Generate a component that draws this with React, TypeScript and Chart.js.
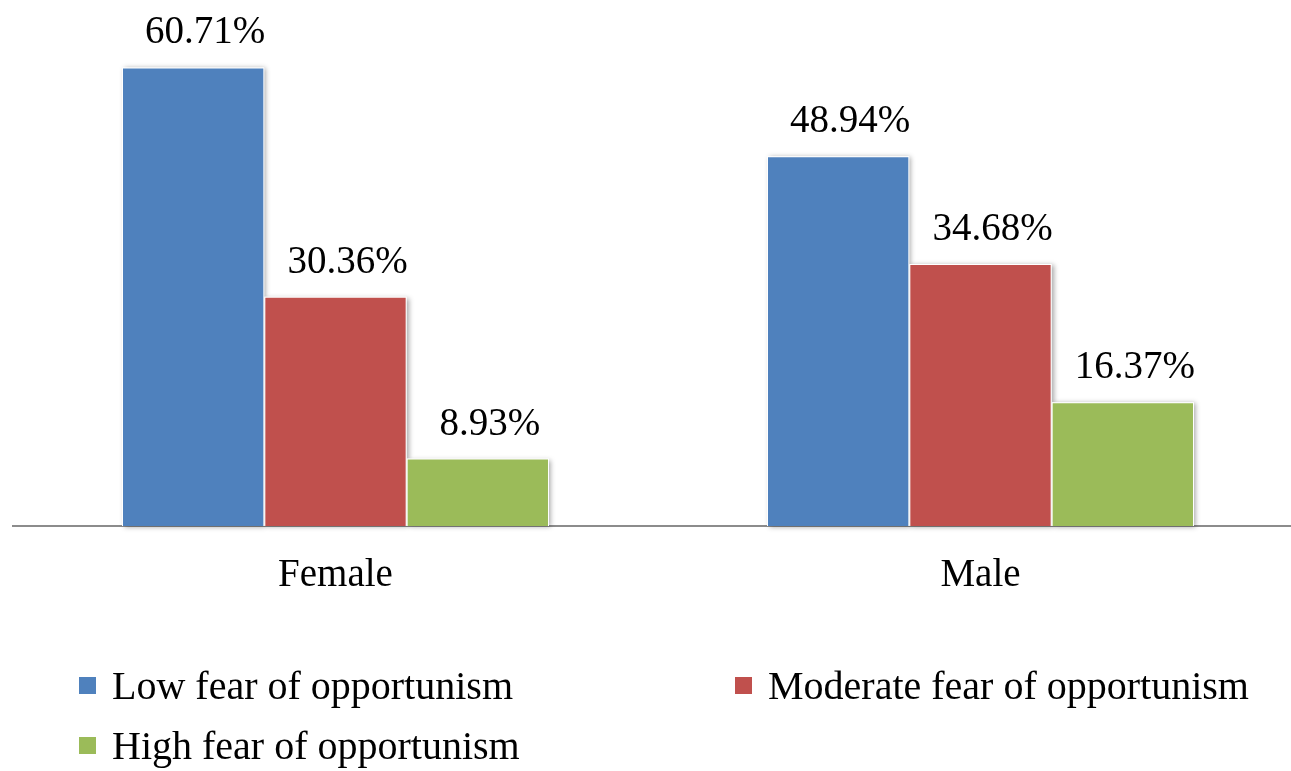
import React, { useEffect, useRef } from "react";
import { Chart, registerables } from "chart.js";

Chart.register(...registerables);

const categories = ["Female", "Male"];
const seriesNames = [
  "Low fear of opportunism",
  "Moderate fear of opportunism",
  "High fear of opportunism",
];
const lowFear = [60.71, 48.94];
const moderateFear = [30.36, 34.68];
const highFear = [8.93, 16.37];
const colors = ["#4F81BD", "#C0504D", "#9BBB59"];

const FONT = '"Liberation Serif", "Times New Roman", serif';

const shadowPlugin = {
  id: "barShadow",
  beforeDatasetsDraw(chart: any) {
    const ctx = chart.ctx;
    ctx.save();
    ctx.shadowColor = "rgba(0,0,0,0.35)";
    ctx.shadowBlur = 5;
    ctx.shadowOffsetX = 2;
    ctx.shadowOffsetY = 1;
    ctx.fillStyle = "#ffffff";
    chart.data.datasets.forEach((_: any, i: number) => {
      const meta = chart.getDatasetMeta(i);
      meta.data.forEach((el: any) => {
        const left = el.x - el.width / 2;
        ctx.fillRect(left, el.y, el.width, el.base - el.y);
      });
    });
    ctx.restore();
  },
};

const valueLabelPlugin = {
  id: "valueLabels",
  afterDatasetsDraw(chart: any) {
    const ctx = chart.ctx;
    ctx.save();
    ctx.font = `39px ${FONT}`;
    ctx.fillStyle = "#000000";
    ctx.textAlign = "center";
    ctx.textBaseline = "alphabetic";
    chart.data.datasets.forEach((ds: any, i: number) => {
      const meta = chart.getDatasetMeta(i);
      meta.data.forEach((el: any, j: number) => {
        const v = ds.data[j] as number;
        ctx.fillText(v.toFixed(2) + "%", el.x + 12, el.y - 24);
      });
    });
    ctx.restore();
  },
};

const legendPlugin = {
  id: "customLegend",
  afterDraw(chart: any) {
    const ctx = chart.ctx;
    const slots = [
      { x: 79, y: 685 },
      { x: 735, y: 685 },
      { x: 79, y: 745 },
    ];
    ctx.save();
    ctx.font = `40px ${FONT}`;
    ctx.textAlign = "left";
    ctx.textBaseline = "alphabetic";
    seriesNames.forEach((name, i) => {
      const s = slots[i];
      ctx.fillStyle = colors[i];
      ctx.fillRect(s.x, s.y - 8, 17, 17);
      ctx.fillStyle = "#000000";
      ctx.fillText(name, s.x + 33, s.y + 14);
    });
    ctx.restore();
  },
};

export default function App() {
  const canvasRef = useRef<HTMLCanvasElement | null>(null);

  useEffect(() => {
    if (!canvasRef.current) return;
    const chart = new Chart(canvasRef.current, {
      type: "bar",
      data: {
        labels: categories,
        datasets: [lowFear, moderateFear, highFear].map((d, i) => ({
          label: seriesNames[i],
          data: d,
          backgroundColor: colors[i],
          borderColor: "#ffffff",
          borderWidth: 1,
          barPercentage: 1,
          categoryPercentage: 0.662,
        })),
      },
      options: {
        animation: false,
        responsive: true,
        maintainAspectRatio: false,
        devicePixelRatio: 1,
        layout: { padding: { top: 35, left: 13, right: 0, bottom: 0 } },
        plugins: {
          legend: { display: false },
          tooltip: { enabled: false },
        },
        scales: {
          x: {
            grid: { display: false, drawTicks: false },
            border: { display: true, color: "#8c8c8c", width: 2 },
            ticks: {
              color: "#000000",
              font: { family: FONT, size: 39 },
              padding: 26,
            },
            afterFit: (scale: any) => {
              scale.height = 245;
            },
          },
          y: {
            display: false,
            min: 0,
            max: 65,
          },
        },
      },
      plugins: [shadowPlugin, valueLabelPlugin, legendPlugin],
    });
    return () => chart.destroy();
  }, []);

  return (
    <div
      style={{
        position: "fixed",
        left: 0,
        top: 0,
        width: 1291,
        height: 771,
        overflow: "hidden",
        background: "#ffffff",
      }}
    >
      <div style={{ position: "relative", width: 1303, height: 771 }}>
        <canvas ref={canvasRef} />
      </div>
    </div>
  );
}
